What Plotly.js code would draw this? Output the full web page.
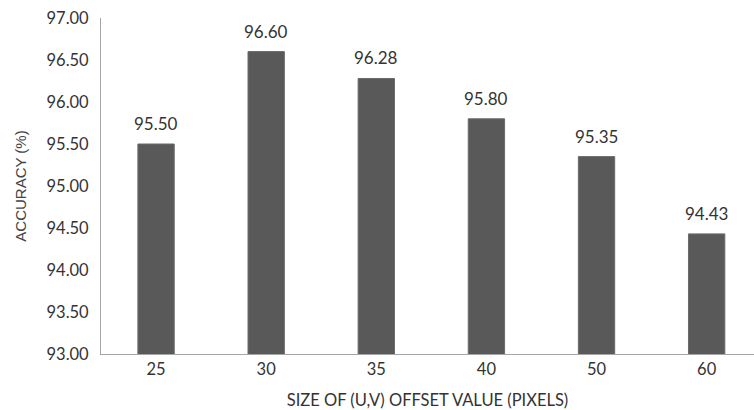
<!DOCTYPE html>
<html>
<head>
<meta charset="utf-8">
<script src="https://cdn.plot.ly/plotly-3.0.1.min.js"></script>
<style>html,body{margin:0;padding:0;background:#fff;}#chart{width:754px;height:410px;}</style>
</head>
<body>
<div id="chart"></div>
<script>
const categories = ["25", "30", "35", "40", "50", "60"];
const accuracy = [95.50, 96.60, 96.28, 95.80, 95.35, 94.43];
const yTicks = [93, 93.5, 94, 94.5, 95, 95.5, 96, 96.5, 97];

const FONT = "Lato, 'Open Sans', sans-serif";
const trace = {
  type: "bar",
  x: categories,
  y: accuracy,
  marker: {color: "#595959", line: {color: "#6a6a6a", width: 1}},
  hoverinfo: "none"
};
const annotations = categories.map((c, i) => ({
  x: i, y: accuracy[i], xref: "x", yref: "y",
  text: accuracy[i].toFixed(2), showarrow: false,
  xanchor: "center", yanchor: "bottom", yshift: 8,
  font: {family: FONT, size: 17, color: "#333333"}
}));
const layout = {
  width: 754, height: 410,
  margin: {l: 101, r: 0, t: 18, b: 56},
  paper_bgcolor: "#ffffff", plot_bgcolor: "#ffffff",
  bargap: 0.67,
  showlegend: false,
  xaxis: {
    type: "category", range: [-0.5, 5.43],
    showgrid: false, zeroline: false,
    showline: true, linecolor: "#a6a6a6", linewidth: 1,
    ticks: "", ticklen: 0,
    tickfont: {family: FONT, size: 16.5, color: "#333333"},
    title: {text: "SIZE OF (U,V) OFFSET VALUE (PIXELS)", font: {family: FONT, size: 16.5, color: "#333333"}, standoff: 18}
  },
  yaxis: {
    range: [93, 97], tickvals: yTicks,
    ticktext: yTicks.map(v => v.toFixed(2)),
    showgrid: false, zeroline: false,
    showline: true, linecolor: "#a6a6a6", linewidth: 1,
    ticks: "", ticklabelstandoff: 8,
    tickfont: {family: FONT, size: 16.5, color: "#333333"},
    title: {text: "ACCURACY (%)", font: {family: "'Liberation Sans', Arial, sans-serif", size: 15, color: "#444444"}, standoff: 16}
  },
  annotations: annotations
};
Plotly.newPlot("chart", [trace], layout, {staticPlot: true, displayModeBar: false});
</script>
</body>
</html>
